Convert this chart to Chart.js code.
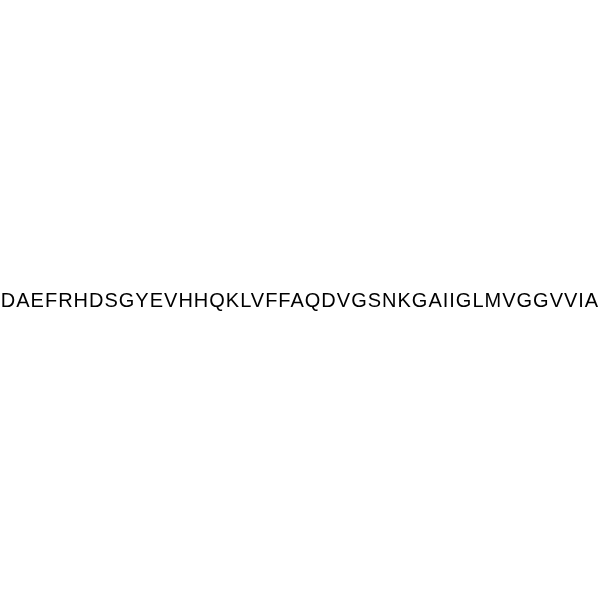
<!DOCTYPE html>
<html>
<head>
<meta charset="utf-8">
<script src="https://cdn.jsdelivr.net/npm/chart.js@4"></script>
<style>
  html, body { margin: 0; padding: 0; background: #fff; }
  #wrap { width: 600px; height: 600px; }
</style>
</head>
<body>
<div id="wrap"><canvas id="c"></canvas></div>
<script>
// peptide sequence, one residue per entry
const residues = ['D','A','E','F','R','H','D','S','G','Y','E','V','H','H','Q','K','L','V','F','F','A',
                  'Q','D','V','G','S','N','K','G','A','I','I','G','L','M','V','G','G','V','V','I','A'];

// draws the sequence as one line across the middle of the canvas
const seqLabel = {
    id: 'seqLabel',
    afterDraw(chart) {
        const ctx = chart.ctx;
        ctx.save();
        ctx.font = '20px "Liberation Sans", Arial, sans-serif';
        ctx.letterSpacing = '1px';
        ctx.fillStyle = '#000';
        ctx.textAlign = 'center';
        ctx.textBaseline = 'alphabetic';
        ctx.fillText(residues.join(''), 300, 307);
        ctx.restore();
    },
};

new Chart(document.getElementById('c'), {
    type: 'scatter',
    data: { datasets: [{ data: [] }] },
    options: {
        responsive: true,
        maintainAspectRatio: false,
        animation: false,
        layout: { padding: 0 },
        plugins: { legend: { display: false }, tooltip: { enabled: false } },
        scales: { x: { display: false }, y: { display: false } },
    },
    plugins: [seqLabel],
});
</script>
</body>
</html>
